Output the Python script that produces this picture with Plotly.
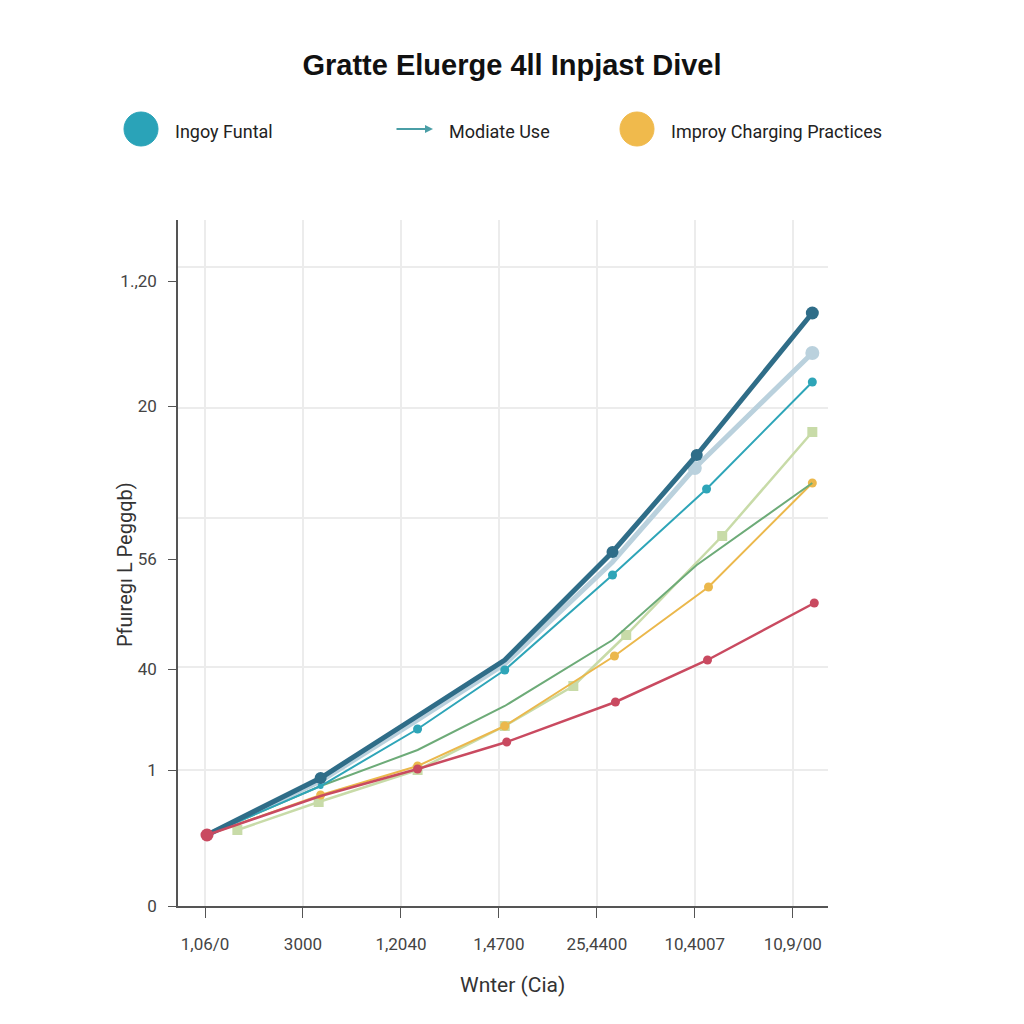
import plotly.graph_objects as go

# ---------------- data ----------------
x_tick_pos = [0, 1, 2, 3, 4, 5, 6]
x_tick_text = ["1,06/0", "3000", "1,2040", "1,4700", "25,4400", "10,4007", "10,9/00"]

y_tick_pos = [0, 27.2, 47.4, 69.4, 100, 125]
y_tick_text = ["0", "1", "40", "56", "20", "1.,20"]
y_grid_pos = [27.2, 47.8, 77.6, 99.6, 127.8]

dark_x = [0.02, 1.18, 2.17, 3.06, 4.16, 5.02, 6.2]
dark_y = [14.2, 25.6, 38.0, 49.2, 70.8, 90.2, 118.6]

light_x = [0.02, 1.18, 2.17, 3.06, 4.16, 5.0, 6.2]
light_y = [14.2, 25.0, 37.2, 48.4, 68.8, 87.6, 110.6]

teal_x = [0.02, 1.18, 2.17, 3.06, 4.16, 5.12, 6.2]
teal_y = [14.2, 24.0, 35.4, 47.2, 66.2, 83.4, 104.8]

green_x = [0.02, 1.18, 2.17, 3.06, 4.16, 5.02, 6.2]
green_y = [14.2, 24.0, 31.2, 40.0, 53.2, 68.2, 84.6]

sage_x = [0.33, 1.16, 2.17, 3.06, 3.76, 4.3, 5.28, 6.2]
sage_y = [15.2, 20.8, 27.2, 36.0, 44.0, 54.2, 74.0, 94.8]

orange_x = [0.02, 1.18, 2.17, 3.06, 4.18, 5.14, 6.2]
orange_y = [14.2, 22.2, 28.0, 36.0, 50.0, 63.8, 84.6]

red_x = [0.02, 1.18, 2.17, 3.08, 4.19, 5.13, 6.22]
red_y = [14.2, 22.0, 27.4, 32.8, 40.8, 49.2, 60.6]

legend_labels = ["Ingoy Funtal", "Modiate Use", "Improy Charging Practices"]
title_text = "Gratte Eluerge 4ll Inpjast Divel"
x_title = "Wnter (Cia)"
y_title = "Pfuıregı L Peggqb)"

# ---------------- figure ----------------
fig = go.Figure()

def add(xs, ys, color, width, msize, name, symbol="circle", mode="lines+markers"):
    fig.add_trace(go.Scatter(
        x=xs, y=ys, mode=mode, name=name, showlegend=False,
        line=dict(color=color, width=width),
        marker=dict(color=color, size=msize, symbol=symbol, opacity=1,
                    line=dict(width=0)),
        yaxis="y", xaxis="x", hoverinfo="skip"))

add(sage_x, sage_y, "#c8dba8", 2.5, 10, "sage", symbol="square")
add(orange_x, orange_y, "#ebb84c", 2, 9, "orange")
add(green_x, green_y, "#6dab78", 2, 0, "green", mode="lines")
add(light_x, light_y, "#bad1dd", 5, [0, 0, 0, 0, 0, 14, 14], "light")
add(teal_x, teal_y, "#2ea5b8", 2, [6, 6, 9, 9, 9, 9, 9], "teal")
add(dark_x, dark_y, "#2f6d88", 5, [0, 12, 0, 0, 12, 12, 13], "dark")
add(red_x, red_y, "#c94a60", 2.5, [13, 0, 9, 9, 9, 9, 9], "red")

font_main = "Roboto, Liberation Sans, Arial"

fig.update_layout(
    width=1024, height=1024, autosize=False,
    margin=dict(l=178, r=196, t=220, b=118),
    paper_bgcolor="white", plot_bgcolor="white",
    showlegend=False,
    font=dict(family=font_main, color="#444444", size=17),
    title=dict(text="<b>" + title_text + "</b>", x=0.5, xanchor="center",
               y=1 - 65 / 1024, yanchor="middle",
               font=dict(family="Liberation Sans, Arial", size=29, color="#111111")),
    xaxis=dict(range=[-0.276, 6.36], tickvals=x_tick_pos, ticktext=x_tick_text,
               showgrid=True, gridcolor="#ececec", gridwidth=1.5,
               showline=True, linecolor="#555555", linewidth=1.5,
               ticks="outside", ticklen=10, tickcolor="#555555",
               ticklabelstandoff=12, zeroline=False,
               tickfont=dict(size=17, color="#444444")),
    yaxis=dict(range=[0, 137.2], tickvals=y_tick_pos, ticktext=y_tick_text,
               showgrid=False, showline=True, linecolor="#555555", linewidth=1.5,
               ticks="outside", ticklen=8, tickcolor="#555555",
               ticklabelstandoff=8, zeroline=False,
               tickfont=dict(size=17, color="#444444")),
    yaxis2=dict(range=[0, 137.2], overlaying="y", tickvals=y_grid_pos,
                showgrid=True, gridcolor="#ececec", gridwidth=1.5,
                showticklabels=False, showline=False, zeroline=False, ticks=""),
)

# invisible trace to activate yaxis2 gridlines
fig.add_trace(go.Scatter(x=[None], y=[None], yaxis="y2", showlegend=False, hoverinfo="skip"))

def px_x(px):
    return (px - 178) / 650

def px_y(py):
    return (906 - py) / 686

# legend row
leg_y = px_y(129)
for cx, col in [(141, "#2aa3b8"), (637, "#f0ba4c")]:
    fig.add_shape(type="circle", xref="paper", yref="paper",
                  xsizemode="pixel", ysizemode="pixel",
                  xanchor=px_x(cx), yanchor=leg_y,
                  x0=-17, x1=17, y0=-17, y1=17,
                  fillcolor=col, line=dict(color=col, width=1))

fig.add_annotation(x=px_x(433), y=leg_y, xref="paper", yref="paper",
                   ax=-38, ay=0, text="", showarrow=True,
                   arrowhead=2, arrowsize=0.8, arrowwidth=2, arrowcolor="#4a9ea6")

for tx, label in [(173, legend_labels[0]), (447, legend_labels[1]), (669, legend_labels[2])]:
    fig.add_annotation(x=px_x(tx), y=px_y(132), xref="paper", yref="paper",
                       text=label, showarrow=False, xanchor="left", yanchor="middle",
                       font=dict(family=font_main, size=18, color="#222222"))

# axis titles
fig.add_annotation(x=px_x(512), y=px_y(985), xref="paper", yref="paper",
                   text=x_title, showarrow=False, xanchor="center", yanchor="middle",
                   font=dict(family=font_main, size=21, color="#333333"))
fig.add_annotation(x=px_x(125), y=px_y(565), xref="paper", yref="paper",
                   text=y_title, showarrow=False, textangle=-90,
                   xanchor="center", yanchor="middle",
                   font=dict(family=font_main, size=20, color="#333333"))

fig.write_html("out.html")
